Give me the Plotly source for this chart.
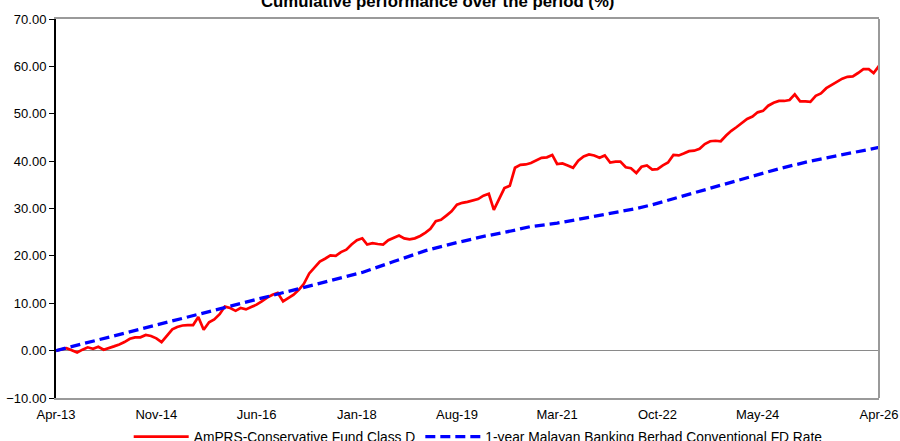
import pandas as pd
import plotly.graph_objects as go

# ---------------- data ----------------
start_month = "2013-04-01"

fund_name = "AmPRS-Conservative Fund Class D"
fund_values = [
    0.0, 0.3, 0.5, 0.1, -0.4, 0.2, 0.7, 0.4, 0.8, 0.2,
    0.5, 0.9, 1.3, 1.8, 2.5, 2.8, 2.8, 3.3, 3.1, 2.6,
    1.8, 3.2, 4.5, 5.0, 5.3, 5.4, 5.4, 7.1, 4.4, 6.0,
    6.6, 7.7, 9.3, 9.0, 8.4, 9.0, 8.7, 9.2, 9.7, 10.4,
    11.2, 11.8, 12.2, 10.4, 11.1, 11.8, 12.9, 14.1, 16.3, 17.6,
    18.8, 19.4, 20.1, 20.0, 20.8, 21.3, 22.4, 23.3, 23.7, 22.4,
    22.7, 22.5, 22.4, 23.3, 23.8, 24.3, 23.7, 23.5, 23.7, 24.2,
    24.9, 25.7, 27.3, 27.6, 28.5, 29.4, 30.8, 31.2, 31.4, 31.7,
    32.0, 32.7, 33.1, 29.7, 32.0, 34.3, 34.8, 38.6, 39.2, 39.3,
    39.6, 40.1, 40.7, 40.8, 41.3, 39.4, 39.5, 39.1, 38.6, 40.1,
    41.0, 41.4, 41.2, 40.7, 41.2, 39.7, 39.9, 39.9, 38.7, 38.5,
    37.5, 38.8, 39.1, 38.2, 38.3, 39.1, 39.7, 41.3, 41.2, 41.6,
    42.1, 42.2, 42.6, 43.6, 44.2, 44.3, 44.2, 45.4, 46.4, 47.2,
    48.0, 48.9, 49.4, 50.3, 50.6, 51.7, 52.3, 52.7, 52.7, 52.9,
    54.1, 52.6, 52.6, 52.5, 53.8, 54.3, 55.4, 56.0, 56.8, 57.4,
    57.8, 57.9, 58.6, 59.4, 59.4, 58.6, 60.1,
]

fd_name = "1-year Malayan Banking Berhad Conventional FD Rate"
fd_month_offsets = [0, 6, 12, 19, 26, 32, 38, 45, 50, 54, 58, 64, 70, 76,
                    81, 86, 90, 95, 100, 105, 110, 113, 118, 124, 130,
                    137, 143, 150, 156]
fd_values = [0.0, 1.7, 3.4, 5.3, 7.3, 9.0, 10.7, 12.8, 14.1, 15.2, 16.5,
             18.8, 21.1, 22.8, 24.1, 25.2, 26.2, 26.9, 27.9, 29.0, 30.0,
             30.8, 32.4, 34.3, 36.2, 38.4, 40.0, 41.6, 42.9]

tick_labels = ["Apr-13", "Nov-14", "Jun-16", "Jan-18", "Aug-19",
               "Mar-21", "Oct-22", "May-24", "Apr-26"]

title_text = "Cumulative performance over the period (%)"

# ---------------- build ----------------
fund_dates = pd.date_range(start_month, periods=len(fund_values), freq="MS")
fd_dates = [pd.Timestamp(start_month) + pd.DateOffset(months=m) for m in fd_month_offsets]
tick_dates = [pd.to_datetime(t, format="%b-%y") for t in tick_labels]

FONT = "Liberation Sans, Arial, sans-serif"

fig = go.Figure()
fig.add_trace(go.Scatter(
    x=fund_dates, y=fund_values, mode="lines", name=fund_name,
    line=dict(color="#FF0000", width=2.7),
))
fig.add_trace(go.Scatter(
    x=fd_dates, y=fd_values, mode="lines", name=fd_name,
    line=dict(color="#0000FF", width=3.3, dash="10px,5px"),
))

fig.update_layout(
    width=900, height=441,
    paper_bgcolor="white", plot_bgcolor="white",
    margin=dict(l=56, r=21, t=19, b=43, autoexpand=False),
    font=dict(family=FONT, size=13, color="black"),
    showlegend=True,
    legend=dict(orientation="h", x=0.513, xanchor="center", y=-0.061,
                yanchor="top", font=dict(family=FONT, size=13.8, color="black"),
                bgcolor="rgba(0,0,0,0)", itemwidth=55, tracegroupgap=0),
)

fig.add_annotation(
    text="<b>" + title_text + "</b>", showarrow=False,
    xref="paper", yref="paper", x=(437 - 56) / 823, xanchor="center",
    y=1, yanchor="middle", yshift=17.5,
    font=dict(family=FONT, size=16.8, color="black"),
)

fig.update_xaxes(
    range=[fund_dates[0], fund_dates[-1]],
    tickmode="array", tickvals=tick_dates, ticktext=tick_labels,
    showgrid=False, zeroline=False,
    showline=True, linecolor="#9a9a9a", linewidth=2, mirror=True,
    ticks="", ticklabelstandoff=3,
    tickfont=dict(family=FONT, size=13, color="black"),
)
fig.update_yaxes(
    range=[-10, 70], dtick=10, tick0=0, tickformat=".2f",
    showgrid=False,
    zeroline=True, zerolinecolor="#8a8a8a", zerolinewidth=1,
    showline=True, linecolor="black", linewidth=2,
    ticks="outside", ticklen=5, tickcolor="black", tickwidth=1,
    tickfont=dict(family=FONT, size=13, color="black"),
)

fig.add_shape(type="line", xref="paper", yref="paper", x0=1, x1=1, y0=0, y1=1,
              line=dict(color="#9a9a9a", width=2), layer="above")

fig.write_html(
    "out.html",
    config={"displayModeBar": False},
    post_script="document.body.style.margin='0px';document.body.style.overflow='hidden';",
)
